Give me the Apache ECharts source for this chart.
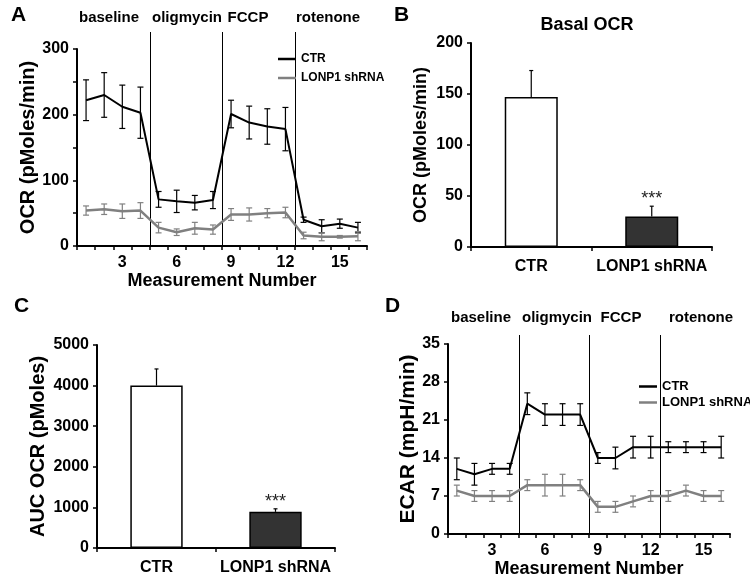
<!DOCTYPE html>
<html><head><meta charset="utf-8">
<script src="https://cdn.jsdelivr.net/npm/echarts@6/dist/echarts.min.js"></script>
<style>html,body{margin:0;padding:0;background:#fff}#c{width:750px;height:583px}</style>
</head><body><div id="c"></div>
<script>
// ---------- data ----------
const measurements = ['1','2','3','4','5','6','7','8','9','10','11','12','13','14','15','16'];
const injectionAfter = [4, 8, 12];
const phaseNames = ['baseline', 'oligmycin', 'FCCP', 'rotenone'];
const seriesNames = ['CTR', 'LONP1 shRNA'];

const ocrCtr     = [222, 230, 212, 203, 71, 68, 66, 70, 201, 188, 182, 178, 40, 30, 34, 28];
const ocrCtrErr  = [31, 34, 33, 39, 12, 17, 11, 13, 21, 25, 27, 33, 4, 10, 7, 8];
const ocrLonp    = [54, 56, 53, 54, 28, 21, 27, 25, 48, 48, 50, 51, 16, 14, 14, 15];
const ocrLonpErr = [7, 8, 11, 12, 8, 5, 9, 7, 9, 10, 7, 8, 5, 6, 2, 7];

const ecarCtr     = [12, 11, 12, 12, 24, 22, 22, 22, 14, 14, 16, 16, 16, 16, 16, 16];
const ecarCtrErr  = [2, 2, 1, 1, 2, 2, 2, 2, 1, 2, 2, 2, 1, 1, 1, 2];
const ecarLonp    = [8, 7, 7, 7, 9, 9, 9, 9, 5, 5, 6, 7, 7, 8, 7, 7];
const ecarLonpErr = [1, 1, 1, 1, 1, 2, 2, 1, 1, 1, 1, 1, 1, 1, 1, 1];

const barCategories = ['CTR', 'LONP1 shRNA'];
const basalOcr    = [147, 30];
const basalOcrErr = [26, 10];
const aucOcr      = [4000, 890];
const aucOcrErr   = [410, 75];
const significance = ['', '***'];

// ---------- helpers ----------
const FONT = "'Liberation Sans', Arial, Helvetica, sans-serif";
const BLACK = '#000';
const GRAY = '#808080';
const DARK = '#333';

function errData(vals, errs) { return vals.map((v, i) => [i, v - errs[i], v + errs[i]]); }
function upErrData(vals, errs) { return vals.map((v, i) => [i, v, v + errs[i]]); }

function errRender(color, cap, bothCaps) {
  return function (params, api) {
    const x = api.value(0);
    const lo = api.coord([x, api.value(1)]);
    const hi = api.coord([x, api.value(2)]);
    const st = { stroke: color, lineWidth: 1.2 };
    const ch = [
      { type: 'line', shape: { x1: lo[0], y1: lo[1], x2: hi[0], y2: hi[1] }, style: st },
      { type: 'line', shape: { x1: hi[0] - cap, y1: hi[1], x2: hi[0] + cap, y2: hi[1] }, style: st }
    ];
    if (bothCaps) ch.push({ type: 'line', shape: { x1: lo[0] - cap, y1: lo[1], x2: lo[0] + cap, y2: lo[1] }, style: st });
    return { type: 'group', children: ch };
  };
}
function vlineRender(ext) {
  return function (params, api) {
    const p = api.coord([api.value(0), 0]);
    const xp = Math.round(p[0]) + 0.5;
    const top = params.coordSys.y - ext;
    return { type: 'line', shape: { x1: xp, y1: p[1], x2: xp, y2: top }, style: { stroke: '#000', lineWidth: 1 } };
  };
}
function starRender(params, api) {
  const p = api.coord([api.value(0), api.value(1)]);
  const txt = significance[params.dataIndex];
  return { type: 'text', x: p[0], y: p[1] - 16, style: { text: txt, font: '18px ' + FONT, fill: '#222', align: 'center', verticalAlign: 'top' } };
}

function catAxis(grid, data, labelInterval, name, margin) {
  return {
    type: 'category', gridIndex: grid, data: data, boundaryGap: true,
    axisLine: { lineStyle: { color: BLACK, width: 2 } },
    axisTick: { show: true, interval: 0, length: 4, lineStyle: { color: BLACK, width: 1.5 } },
    axisLabel: { interval: labelInterval, fontSize: 16, fontWeight: 'bold', color: BLACK, margin: margin, fontFamily: FONT },
    name: name, nameLocation: 'middle', nameGap: 26,
    nameTextStyle: { fontSize: 18, fontWeight: 'bold', color: BLACK, fontFamily: FONT }
  };
}
function valAxis(grid, max, interval, name, nameGap, nameSize, formatter) {
  return {
    type: 'value', gridIndex: grid, min: 0, max: max, interval: interval,
    axisLine: { show: true, lineStyle: { color: BLACK, width: 2 } },
    axisTick: { show: true, length: 4, lineStyle: { color: BLACK, width: 1.5 } },
    axisLabel: { fontSize: 16, fontWeight: 'bold', color: BLACK, margin: 8, fontFamily: FONT,
      formatter: formatter || ((v) => String(v)) },
    splitLine: { show: false },
    name: name, nameLocation: 'middle', nameGap: nameGap,
    nameTextStyle: { fontSize: nameSize, fontWeight: 'bold', color: BLACK, fontFamily: FONT }
  };
}
function lineSeries(name, x, y, data, color, width) {
  return { name: name, type: 'line', xAxisIndex: x, yAxisIndex: y, data: data, symbol: 'none',
    lineStyle: { color: color, width: width }, itemStyle: { color: color }, z: 3 };
}
function errSeries(x, y, data, color, cap, both) {
  return { type: 'custom', xAxisIndex: x, yAxisIndex: y, data: data, renderItem: errRender(color, cap, both),
    encode: { x: 0, y: [1, 2] }, z: 4, silent: true };
}
function barSeries(x, y, vals) {
  return { type: 'bar', xAxisIndex: x, yAxisIndex: y, barWidth: '44%',
    data: vals.map((v, i) => ({ value: v, itemStyle: i === 0
      ? { color: '#fff', borderColor: BLACK, borderWidth: 1.5 }
      : { color: DARK, borderColor: BLACK, borderWidth: 1.5 } })), z: 2 };
}

const legendText = (size) => ({ fontSize: size, fontWeight: 'bold', color: BLACK, fontFamily: FONT });
const phaseText = (x, y, t) => ({ type: 'text', x: x, y: y,
  style: { text: t, font: 'bold 15px ' + FONT, fill: BLACK, align: 'center', verticalAlign: 'middle' } });
const panelText = (x, y, t) => ({ type: 'text', x: x, y: y,
  style: { text: t, font: 'bold 21px ' + FONT, fill: BLACK, align: 'left', verticalAlign: 'top' } });

const option = {
  animation: false,
  backgroundColor: '#fff',
  textStyle: { fontFamily: FONT },
  grid: [
    { left: 77, top: 49, width: 290, height: 197 },
    { left: 471, top: 43, width: 241, height: 204 },
    { left: 97, top: 345, width: 238, height: 203 },
    { left: 448, top: 344, width: 282, height: 190 }
  ],
  xAxis: [
    catAxis(0, measurements, (i) => (i + 1) % 3 === 0, 'Measurement Number', 9),
    { type: 'value', gridIndex: 0, min: 0, max: 16, show: false },
    catAxis(1, barCategories, 0, '', 12),
    catAxis(2, barCategories, 0, '', 12),
    catAxis(3, measurements, (i) => (i + 1) % 3 === 0, 'Measurement Number', 9),
    { type: 'value', gridIndex: 3, min: 0, max: 16, show: false }
  ],
  yAxis: [
    valAxis(0, 300, 50, 'OCR (pMoles/min)', 32, 20, (v) => (v % 100 === 0 ? String(v) : '')),
    valAxis(1, 200, 50, 'OCR (pMoles/min)', 41, 18),
    valAxis(2, 5000, 1000, 'AUC OCR (pMoles)', 49, 20),
    valAxis(3, 35, 7, 'ECAR (mpH/min)', 20, 21)
  ],
  legend: [
    { data: seriesNames, orient: 'vertical', left: 273, top: 48, icon: 'rect', itemWidth: 18, itemHeight: 2.5,
      itemGap: 7, textStyle: legendText(12), selectedMode: false },
    { data: seriesNames, orient: 'vertical', left: 634, top: 375, icon: 'rect', itemWidth: 18, itemHeight: 2.5,
      itemGap: 3, textStyle: legendText(13), selectedMode: false }
  ],
  graphic: [
    panelText(11, 5, 'A'), panelText(394, 5, 'B'), panelText(14, 296, 'C'), panelText(385, 296, 'D'),
    phaseText(109, 18, phaseNames[0]), phaseText(187, 18, phaseNames[1]), phaseText(248, 18, phaseNames[2]), phaseText(328, 18, phaseNames[3]),
    phaseText(481, 318, phaseNames[0]), phaseText(557, 318, phaseNames[1]), phaseText(621, 318, phaseNames[2]), phaseText(701, 318, phaseNames[3]),
    { type: 'text', x: 587, y: 25, style: { text: 'Basal OCR', font: 'bold 18px ' + FONT, fill: BLACK, align: 'center', verticalAlign: 'middle' } }
  ],
  series: [
    // Panel A
    { type: 'custom', xAxisIndex: 1, yAxisIndex: 0, data: injectionAfter.map(v => [v]), renderItem: vlineRender(17), encode: { x: 0 }, z: 1, silent: true },
    lineSeries(seriesNames[0], 0, 0, ocrCtr, BLACK, 2),
    lineSeries(seriesNames[1], 0, 0, ocrLonp, GRAY, 2.5),
    errSeries(0, 0, errData(ocrCtr, ocrCtrErr), BLACK, 3, true),
    errSeries(0, 0, errData(ocrLonp, ocrLonpErr), GRAY, 3, true),
    // Panel B
    barSeries(2, 1, basalOcr),
    errSeries(2, 1, upErrData(basalOcr, basalOcrErr), BLACK, 2, false),
    { type: 'custom', xAxisIndex: 2, yAxisIndex: 1, data: basalOcr.map((v, i) => [i, v + basalOcrErr[i]]), renderItem: starRender, encode: { x: 0, y: 1 }, z: 5 },
    // Panel C
    barSeries(3, 2, aucOcr),
    errSeries(3, 2, upErrData(aucOcr, aucOcrErr), BLACK, 2, false),
    { type: 'custom', xAxisIndex: 3, yAxisIndex: 2, data: aucOcr.map((v, i) => [i, v + aucOcrErr[i]]), renderItem: starRender, encode: { x: 0, y: 1 }, z: 5 },
    // Panel D
    { type: 'custom', xAxisIndex: 5, yAxisIndex: 3, data: injectionAfter.map(v => [v]), renderItem: vlineRender(9), encode: { x: 0 }, z: 1, silent: true },
    lineSeries(seriesNames[0], 4, 3, ecarCtr, BLACK, 2),
    lineSeries(seriesNames[1], 4, 3, ecarLonp, GRAY, 2.5),
    errSeries(4, 3, errData(ecarCtr, ecarCtrErr), BLACK, 3, true),
    errSeries(4, 3, errData(ecarLonp, ecarLonpErr), GRAY, 3, true)
  ]
};
const chart = echarts.init(document.getElementById('c'), null, { renderer: 'canvas' });
chart.setOption(option);
</script>
</body></html>
